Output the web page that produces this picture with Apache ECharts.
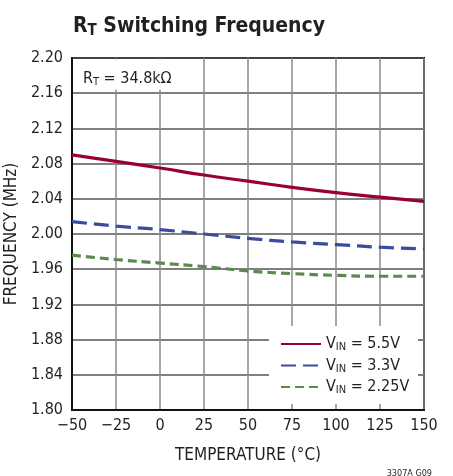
<!DOCTYPE html>
<html>
<head>
<meta charset="utf-8">
<script src="https://cdn.jsdelivr.net/npm/echarts@6/dist/echarts.min.js"></script>
<style>
html,body{margin:0;padding:0;background:#fff;}
#c{width:453px;height:476px;}
</style>
</head>
<body>
<div id="c"></div>
<script>
const temps = [-50, -25, 0, 25, 50, 75, 100, 125, 150];
const vin55 = [2.090, 2.0825, 2.075, 2.067, 2.060, 2.053, 2.047, 2.042, 2.037];
const vin33 = [2.014, 2.009, 2.005, 2.000, 1.995, 1.991, 1.988, 1.985, 1.983];
const vin225 = [1.976, 1.971, 1.967, 1.963, 1.958, 1.955, 1.953, 1.952, 1.952];
const seriesNames = ['V_IN = 5.5V', 'V_IN = 3.3V', 'V_IN = 2.25V'];
const legendLabels = ['{a|V}{b|IN}{a| = 5.5V}', '{a|V}{b|IN}{a| = 3.3V}', '{a|V}{b|IN}{a| = 2.25V}'];

const FONT = "'Liberation Sans Narrow', 'DejaVu Sans Condensed', 'Roboto Condensed', sans-serif";
const pairs = arr => temps.map((t, i) => [t, arr[i]]);

const chart = echarts.init(document.getElementById('c'), null, {renderer: 'canvas'});
const option = {
  animation: false,
  backgroundColor: '#fff',
  textStyle: {fontFamily: FONT},
  title: [{
    text: '{a|R}{b|T}{a| Switching Frequency}',
    left: 68, top: 8,
    textStyle: {
      rich: {
        a: {fontFamily: FONT, fontWeight: 'bold', fontSize: 21, color: '#231f20', lineHeight: 28},
        b: {fontFamily: FONT, fontWeight: 'bold', fontSize: 15, color: '#231f20', lineHeight: 28, padding: [9, 0, 0, 0]}
      }
    }
  }, {
    text: '{a|R}{b|T}{a| = 34.8kΩ}',
    left: 78, top: 63,
    textStyle: {
      fontWeight: 'normal',
      rich: {
        a: {fontFamily: FONT, fontWeight: 'normal', fontSize: 16, color: '#231f20', lineHeight: 22},
        b: {fontFamily: FONT, fontWeight: 'normal', fontSize: 11, color: '#231f20', lineHeight: 22, padding: [7, 0, 0, 0]}
      }
    }
  }, {
    text: '3307A G09',
    right: 16, top: 464,
    textStyle: {fontFamily: FONT, fontSize: 9, fontWeight: 'normal', color: '#231f20'}
  }],
  grid: {
    left: 72, right: 29, top: 58, bottom: 66,
    outerBoundsMode: 'none', containLabel: false,
    show: true, borderColor: '#111', borderWidth: 2, backgroundColor: '#fff'
  },
  legend: {
    orient: 'vertical',
    left: 275, top: 330,
    itemWidth: 40, itemHeight: 14, itemGap: 3.5,
    data: seriesNames,
    itemStyle: {opacity: 0},
    formatter: name => legendLabels[seriesNames.indexOf(name)],
    textStyle: {
      rich: {
        a: {fontFamily: FONT, fontSize: 16, color: '#231f20', lineHeight: 20},
        b: {fontFamily: FONT, fontSize: 11, color: '#231f20', lineHeight: 20, padding: [7, 0, 0, 0]}
      }
    }
  },
  xAxis: {
    type: 'value', min: -50, max: 150, interval: 25,
    name: 'TEMPERATURE (°C)', nameLocation: 'middle', nameGap: 37,
    nameTextStyle: {fontFamily: FONT, fontSize: 17, color: '#231f20'},
    axisLine: {show: true, onZero: false, lineStyle: {color: '#111', width: 2}},
    axisTick: {show: false},
    axisLabel: {
      fontFamily: FONT, fontSize: 16, color: '#231f20', margin: 8,
      formatter: v => (v < 0 ? '\u2212' + Math.abs(v) : String(v))
    },
    splitLine: {show: true, lineStyle: {color: '#8a8a8a', width: 1.5}}
  },
  yAxis: {
    type: 'value', min: 1.80, max: 2.20, interval: 0.04,
    name: 'FREQUENCY (MHz)', nameLocation: 'middle', nameGap: 40,
    nameTextStyle: {fontFamily: FONT, fontSize: 17, color: '#231f20'},
    axisLine: {show: true, onZero: false, lineStyle: {color: '#111', width: 2}},
    axisTick: {show: false},
    axisLabel: {
      fontFamily: FONT, fontSize: 16, color: '#231f20', margin: 9,
      formatter: v => v.toFixed(2)
    },
    splitLine: {show: true, lineStyle: {color: '#555', width: 1.5}}
  },
  graphic: [
    {type: 'rect', z: 1, shape: {x: 73.5, y: 59.5, width: 127, height: 30}, style: {fill: '#fff'}},
    {type: 'rect', z: 1, shape: {x: 269, y: 326, width: 149, height: 78}, style: {fill: '#fff'}}
  ],
  series: [
    {name: seriesNames[0], type: 'line', data: pairs(vin55), smooth: true, symbol: 'none', z: 3,
      lineStyle: {color: '#990033', width: 3.2}, itemStyle: {color: '#990033'}},
    {name: seriesNames[1], type: 'line', data: pairs(vin33), smooth: true, symbol: 'none', z: 3,
      lineStyle: {color: '#3a4c9f', width: 3.2, type: [15, 7]}, itemStyle: {color: '#3a4c9f'}},
    {name: seriesNames[2], type: 'line', data: pairs(vin225), smooth: true, symbol: 'none', z: 3,
      lineStyle: {color: '#5b8a4e', width: 3.2, type: [9, 5]}, itemStyle: {color: '#5b8a4e'}}
  ]
};
chart.setOption(option);
</script>
</body>
</html>
